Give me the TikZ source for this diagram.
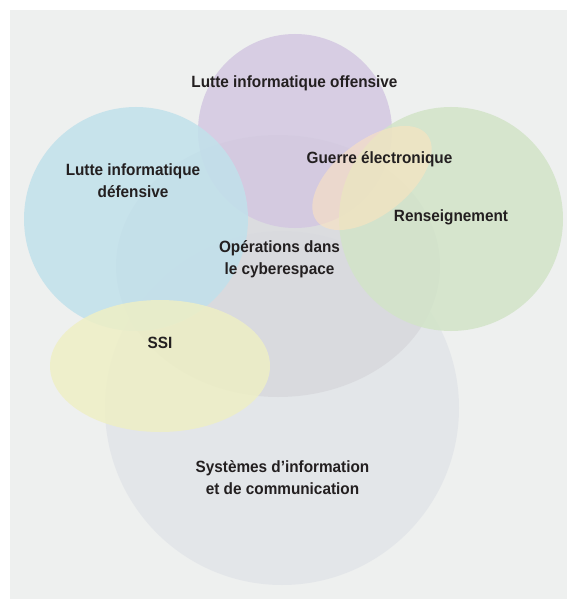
\documentclass[tikz,border=0pt]{standalone}
\usepackage{fontspec}
\setmainfont{Liberation Sans}[BoldFeatures={FakeStretch=0.94}]
\definecolor{bgcol}{RGB}{238,240,239}
\definecolor{siccol}{RGB}{226,229,233}
\definecolor{opscol}{RGB}{216,217,221}
\definecolor{offcol}{RGB}{211,200,225}
\definecolor{defcol}{RGB}{193,225,235}
\definecolor{rencol}{RGB}{210,228,200}
\definecolor{ssicol}{RGB}{238,239,197}
\definecolor{gecol}{RGB}{255,228,190}
\definecolor{txtcol}{RGB}{35,31,32}
\tikzset{
  zone/.style={fill=#1, fill opacity=0.85, draw=none},
  lbl/.style={anchor=base, inner sep=0pt, text=txtcol,
    font=\fontsize{16.3}{22.5}\selectfont\bfseries}
}
\newcommand{\twolines}[2]{\begin{tabular}[t]{@{}c@{}}#1\\#2\end{tabular}}
\begin{document}
\begin{tikzpicture}[x=1pt,y=-1pt]
\useasboundingbox (0,0) rectangle (567,599);
\fill[bgcol] (10,10) rectangle (567,599);
% domains
\fill[zone=siccol] (282,408) circle [radius=177pt];
\fill[zone=opscol] (278,266) ellipse [x radius=162pt, y radius=131pt];
\fill[zone=offcol] (295,131) circle [radius=97pt];
\fill[zone=defcol] (136,219) circle [radius=112pt];
\fill[zone=rencol] (451,219) circle [radius=112pt];
\fill[zone=ssicol] (160,366) ellipse [x radius=110pt, y radius=66pt];
\fill[fill=gecol, fill opacity=0.55, shift={(372,178)}, rotate=38]
  (0,0) ellipse [x radius=70pt, y radius=37pt];
% labels
\node[lbl] (off) at (294.5,88) {Lutte informatique offensive};
\node[lbl] (def) at (133,175) {\twolines{Lutte informatique}{défensive}};
\node[lbl] (ge)  at (379.5,163) {Guerre électronique};
\node[lbl] (ren) at (451,221) {Renseignement};
\node[lbl] (ops) at (279.5,252) {\twolines{Opérations dans}{le cyberespace}};
\node[lbl] (ssi) at (160,348) {SSI};
\node[lbl] (sic) at (282.5,472) {\twolines{Systèmes d’information}{et de communication}};
\end{tikzpicture}
\end{document}
